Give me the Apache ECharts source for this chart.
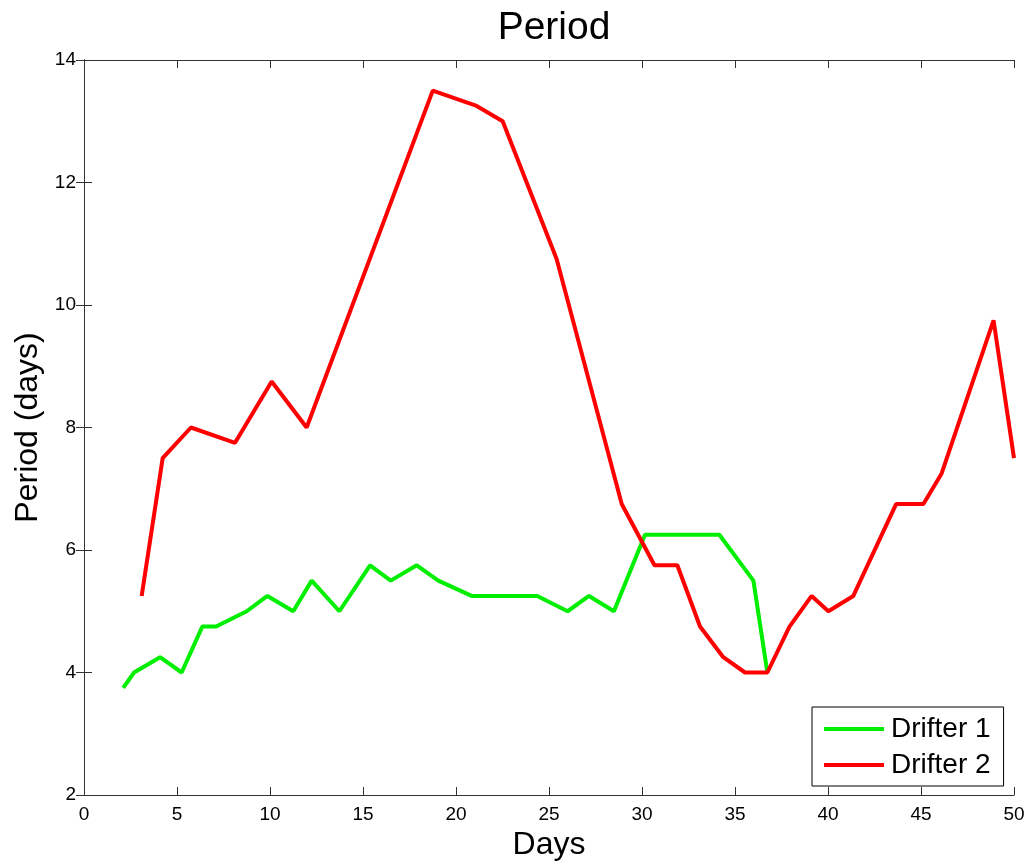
<!DOCTYPE html>
<html>
<head>
<meta charset="utf-8">
<script src="https://cdn.jsdelivr.net/npm/echarts@6/dist/echarts.min.js"></script>
<style>
html,body{margin:0;padding:0;background:#fff;}
#chart{width:1033px;height:867px;}
</style>
</head>
<body>
<div id="chart"></div>
<script>
// Data
const drifter1Days   = [2.11, 2.69, 4.09, 5.25, 6.36, 7.10, 8.75, 9.86, 11.25, 12.24, 13.73, 15.38, 16.49, 17.89, 19.05, 20.84, 24.37, 26.0, 27.15, 28.49, 30.16, 34.16, 35.99, 36.74];
const drifter1Period = [3.75, 4.0, 4.25, 4.0, 4.75, 4.75, 5.0, 5.25, 5.0, 5.5, 5.0, 5.75, 5.5, 5.75, 5.5, 5.25, 5.25, 5.0, 5.25, 5.0, 6.25, 6.25, 5.5, 4.0];
const drifter2Days   = [3.1, 4.23, 5.75, 8.12, 10.09, 11.97, 18.75, 21.11, 22.51, 25.41, 28.91, 30.67, 31.9, 33.12, 34.37, 35.54, 36.74, 37.93, 39.12, 40.02, 41.36, 43.66, 45.13, 46.11, 48.9, 50.0];
const drifter2Period = [5.25, 7.5, 8.0, 7.75, 8.75, 8.0, 13.5, 13.25, 13.0, 10.75, 6.75, 5.75, 5.75, 4.75, 4.25, 4.0, 4.0, 4.75, 5.25, 5.0, 5.25, 6.75, 6.75, 7.25, 9.75, 7.5];
const seriesNames = ['Drifter 1', 'Drifter 2'];
const titleText = 'Period';
const xName = 'Days';
const yName = 'Period (days)';

const pair = (xs, ys) => xs.map((x, i) => [x, ys[i]]);
const FONT = 'Liberation Sans, Arial, Helvetica, sans-serif';
const axisCol = '#333';

const chart = echarts.init(document.getElementById('chart'), null, {renderer: 'canvas'});
const baseAxisLine = {show: true, lineStyle: {color: axisCol, width: 1}};
const baseTick = {show: true, inside: true, length: 8, lineStyle: {color: axisCol, width: 1}};

chart.setOption({
  animation: false,
  backgroundColor: '#fff',
  title: {
    text: titleText, left: 549, top: 4, textAlign: 'center',
    textStyle: {fontFamily: FONT, fontSize: 39, fontWeight: 'normal', color: '#000'}
  },
  grid: {left: 84, right: 19, top: 60, bottom: 72, containLabel: false},
  legend: {
    orient: 'vertical', left: 812, top: 707,
    data: seriesNames,
    icon: 'rect', itemWidth: 60, itemHeight: 4, itemGap: 8,
    padding: [8, 13, 7, 12],
    borderColor: '#000', borderWidth: 1, backgroundColor: '#fff',
    textStyle: {fontFamily: FONT, fontSize: 28, color: '#000', padding: [0, 0, 0, 2]}
  },
  xAxis: [{
    type: 'value', min: 0, max: 50, interval: 5,
    name: xName, nameLocation: 'middle', nameGap: 31,
    nameTextStyle: {fontFamily: FONT, fontSize: 32, color: '#000'},
    axisLine: baseAxisLine, axisTick: baseTick,
    axisLabel: {fontFamily: FONT, fontSize: 19, color: '#000', margin: 10},
    splitLine: {show: false}
  }, {
    type: 'value', min: 0, max: 50, interval: 5, position: 'top',
    axisLine: baseAxisLine, axisTick: baseTick, axisLabel: {show: false}, splitLine: {show: false}
  }],
  yAxis: [{
    type: 'value', min: 2, max: 14, interval: 2,
    name: yName, nameLocation: 'middle', nameGap: 38, nameRotate: 90,
    nameTextStyle: {fontFamily: FONT, fontSize: 32, color: '#000'},
    axisLine: baseAxisLine, axisTick: baseTick,
    axisLabel: {fontFamily: FONT, fontSize: 19, color: '#000', margin: 8},
    splitLine: {show: false}
  }, {
    type: 'value', min: 2, max: 14, interval: 2, position: 'right',
    axisLine: baseAxisLine, axisTick: baseTick, axisLabel: {show: false}, splitLine: {show: false}
  }],
  series: [{
    name: seriesNames[0], type: 'line', data: pair(drifter1Days, drifter1Period),
    showSymbol: false, symbol: 'none', color: '#00ee00',
    lineStyle: {color: '#00ee00', width: 4}, z: 3
  }, {
    name: seriesNames[1], type: 'line', data: pair(drifter2Days, drifter2Period),
    showSymbol: false, symbol: 'none', color: '#ff0000',
    lineStyle: {color: '#ff0000', width: 4}, z: 4
  }]
});
</script>
</body>
</html>
